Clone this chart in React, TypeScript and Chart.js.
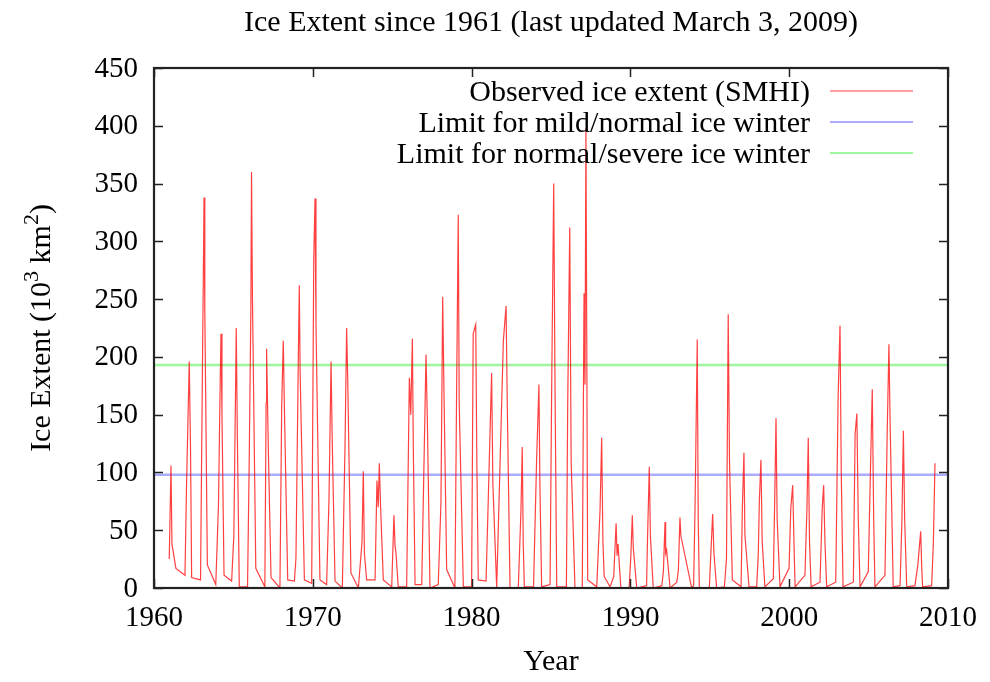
import React, { useEffect, useRef } from 'react';
import { Chart, registerables } from 'chart.js';

Chart.register(...registerables);

const TITLE = 'Ice Extent since 1961 (last updated March 3, 2009)';
const X_LABEL = 'Year';
const Y_LABEL_PARTS = [
  { t: 'Ice Extent (10', sup: false },
  { t: '3', sup: true },
  { t: ' km', sup: false },
  { t: '2', sup: true },
  { t: ')', sup: false },
];
const legendLabels = [
  'Observed ice extent (SMHI)',
  'Limit for mild/normal ice winter',
  'Limit for normal/severe ice winter',
];
const xTickValues = [1960, 1970, 1980, 1990, 2000, 2010];
const yTickValues = [0, 50, 100, 150, 200, 250, 300, 350, 400, 450];

const mildLimit = 98;
const severeLimit = 193;

// Observation time (decimal year) and ice extent (10^3 km^2)
const obsYear = [
  1960.96, 1961.07, 1961.13, 1961.38, 1961.95,
  1962.05, 1962.22, 1962.30, 1962.37, 1962.93,
  1963.04, 1963.12, 1963.15, 1963.20, 1963.36, 1963.89,
  1964.06, 1964.17, 1964.22, 1964.28, 1964.41, 1964.89,
  1965.03, 1965.18, 1965.25, 1965.37, 1965.89,
  1965.99, 1966.10, 1966.14, 1966.20, 1966.41, 1966.98,
  1967.06, 1967.09, 1967.20, 1967.37, 1967.93,
  1968.04, 1968.14, 1968.22, 1968.42, 1968.84,
  1968.94, 1969.08, 1969.15, 1969.20, 1969.47, 1969.93,
  1970.06, 1970.14, 1970.20, 1970.45, 1970.87,
  1971.02, 1971.15, 1971.22, 1971.40, 1971.86,
  1972.03, 1972.13, 1972.20, 1972.40, 1972.87,
  1973.10, 1973.18, 1973.25, 1973.39, 1973.92,
  1974.04, 1974.12, 1974.19, 1974.26, 1974.44, 1974.97,
  1975.11, 1975.18, 1975.24, 1975.38, 1975.91,
  1976.08, 1976.17, 1976.27, 1976.33, 1976.44, 1976.86,
  1977.02, 1977.13, 1977.22, 1977.38, 1977.90,
  1978.07, 1978.18, 1978.26, 1978.43, 1978.95,
  1979.06, 1979.16, 1979.22, 1979.48, 1980.00,
  1980.10, 1980.26, 1980.33, 1980.42, 1980.91,
  1981.05, 1981.26, 1981.34, 1981.58,
  1982.00, 1982.17, 1982.25, 1982.42, 1982.94,
  1983.11, 1983.19, 1983.25, 1983.32, 1983.90,
  1984.09, 1984.24, 1984.30, 1984.41, 1984.94,
  1985.04, 1985.17, 1985.25, 1985.36, 1985.97,
  1986.05, 1986.18, 1986.27, 1986.51, 1986.97,
  1987.08, 1987.14, 1987.20, 1987.25, 1987.31, 1987.88,
  1988.09, 1988.19, 1988.27, 1988.35, 1988.72,
  1988.95, 1989.10, 1989.16, 1989.22, 1989.40, 1989.92,
  1990.03, 1990.12, 1990.18, 1990.40,
  1991.02, 1991.07, 1991.19, 1991.26, 1991.44, 1991.98,
  1992.08, 1992.18, 1992.22, 1992.28, 1992.50, 1992.92,
  1993.02, 1993.12, 1993.18, 1993.86, 1993.98,
  1994.07, 1994.21, 1994.27, 1994.34, 1994.97,
  1995.05, 1995.18, 1995.26, 1995.43, 1995.92,
  1996.05, 1996.16, 1996.24, 1996.42, 1996.97,
  1997.05, 1997.15, 1997.21, 1997.47, 1997.95,
  1998.05, 1998.12, 1998.22, 1998.30, 1998.47,
  1999.00, 1999.10, 1999.17, 1999.24, 1999.42,
  1999.99, 2000.10, 2000.22, 2000.30, 2000.37,
  2000.99, 2001.12, 2001.20, 2001.28, 2001.38,
  2001.94, 2002.08, 2002.17, 2002.25, 2002.36,
  2002.93, 2003.08, 2003.20, 2003.28, 2003.39,
  2004.04, 2004.15, 2004.26, 2004.35, 2004.46,
  2004.98, 2005.12, 2005.23, 2005.32, 2005.40,
  2006.03, 2006.17, 2006.28, 2006.35, 2006.55,
  2006.98, 2007.10, 2007.19, 2007.27, 2007.40,
  2007.92, 2008.10, 2008.28, 2008.34, 2008.40,
  2008.97, 2009.08, 2009.18,
];
const obsExtent = [
  25, 106, 38, 17, 11,
  90, 196, 120, 9, 7,
  175, 290, 338, 240, 20, 3,
  72, 180, 220, 150, 11, 6,
  46, 225, 130, 1, 1,
  104, 240, 360, 250, 17, 1,
  160, 207, 120, 9, 0,
  156, 214, 150, 7, 6,
  26, 190, 262, 188, 7, 4,
  284, 337, 229, 7, 3,
  77, 196, 130, 6, 0,
  124, 225, 180, 13, 0,
  40, 101, 30, 7, 7,
  93, 70, 108, 74, 7, 1,
  63, 36, 30, 1, 1,
  182, 150, 216, 120, 3, 3,
  121, 202, 140, 0, 3,
  74, 252, 170, 16, 0,
  176, 323, 159, 1, 1,
  220, 228, 110, 7, 6,
  77, 186, 90, 0,
  214, 244, 156, 0, 0,
  68, 122, 40, 1, 1,
  109, 176, 90, 1, 3,
  170, 350, 180, 1, 1,
  156, 312, 109, 0, 0,
  255, 176, 398, 220, 7, 1,
  68, 130, 40, 10, 1,
  10, 56, 28, 38, 0, 0,
  28, 63, 35, 0,
  2, 38, 105, 45, 0, 2,
  15, 57, 30, 33, 0, 5,
  15, 61, 45, 0, 2,
  69, 215, 60, 0, 0,
  25, 64, 30, 0, 1,
  25, 237, 110, 7, 1,
  69, 117, 46, 1, 1,
  28, 75, 111, 40, 1,
  8, 86, 147, 60, 1,
  17, 69, 89, 40, 1,
  11, 70, 130, 40, 1,
  5, 69, 89, 40, 1,
  5, 165, 227, 98, 1,
  5, 133, 151, 60, 1,
  14, 104, 172, 60, 1,
  11, 133, 211, 147, 1,
  2, 60, 136, 60, 1,
  2, 20, 49, 20, 1,
  2, 40, 108,
];

const FONT = '"Liberation Serif", "Times New Roman", Times, serif';
const FS = 30;
const TICK_FS = 29;

const seriesColors = ['rgba(255,0,0,0.75)', 'rgba(70,70,255,0.45)', 'rgba(40,235,40,0.45)'];
const seriesWidths = [1.2, 2.5, 2.5];

const decorPlugin = {
  id: 'gnuplotDecor',
  afterDraw(chart: any) {
    const { ctx, chartArea } = chart;
    const { left, right, top, bottom } = chartArea;
    const xs = chart.scales.x;
    const ys = chart.scales.y;
    ctx.save();
    // ticks (inward, mirrored)
    ctx.strokeStyle = '#222';
    ctx.lineWidth = 1.5;
    ctx.beginPath();
    const tl = 9;
    yTickValues.forEach((v) => {
      const y = Math.round(ys.getPixelForValue(v)) + 0.5;
      ctx.moveTo(left, y);
      ctx.lineTo(left + tl, y);
      ctx.moveTo(right, y);
      ctx.lineTo(right - tl, y);
    });
    xTickValues.forEach((v) => {
      const x = Math.round(xs.getPixelForValue(v)) + 0.5;
      ctx.moveTo(x, bottom);
      ctx.lineTo(x, bottom - tl);
      ctx.moveTo(x, top);
      ctx.lineTo(x, top + tl);
    });
    ctx.stroke();
    // frame
    ctx.lineWidth = 2.2;
    ctx.strokeStyle = '#222';
    ctx.strokeRect(left, top, right - left, bottom - top);

    ctx.fillStyle = '#000';
    // tick labels
    ctx.font = `${TICK_FS}px ${FONT}`;
    ctx.textAlign = 'right';
    ctx.textBaseline = 'middle';
    yTickValues.forEach((v) => {
      ctx.fillText(String(v), left - 16, ys.getPixelForValue(v) + 1);
    });
    ctx.textAlign = 'center';
    xTickValues.forEach((v) => {
      ctx.fillText(String(v), xs.getPixelForValue(v), bottom + 30);
    });
    // title
    ctx.font = `${FS}px ${FONT}`;
    ctx.textAlign = 'center';
    ctx.textBaseline = 'middle';
    ctx.fillText(TITLE, (left + right) / 2, 23);
    // x label
    ctx.fillText(X_LABEL, (left + right) / 2, 662);
    // y label with superscripts
    ctx.save();
    ctx.translate(40, (top + bottom) / 2);
    ctx.rotate(-Math.PI / 2);
    const supSize = Math.round(FS * 0.72);
    let total = 0;
    Y_LABEL_PARTS.forEach((p) => {
      ctx.font = `${p.sup ? supSize : FS}px ${FONT}`;
      total += ctx.measureText(p.t).width;
    });
    let cx = -total / 2;
    ctx.textAlign = 'left';
    ctx.textBaseline = 'alphabetic';
    Y_LABEL_PARTS.forEach((p) => {
      ctx.font = `${p.sup ? supSize : FS}px ${FONT}`;
      ctx.fillText(p.t, cx, p.sup ? 10 - 12 : 10);
      cx += ctx.measureText(p.t).width;
    });
    ctx.restore();
    // legend
    ctx.font = `${FS}px ${FONT}`;
    ctx.textAlign = 'right';
    ctx.textBaseline = 'middle';
    const rows = [92, 123, 154];
    legendLabels.forEach((lab, i) => {
      ctx.fillStyle = '#000';
      ctx.fillText(lab, 810, rows[i] + 1);
      ctx.strokeStyle = seriesColors[i];
      ctx.lineWidth = i === 0 ? 1.2 : 2;
      ctx.beginPath();
      ctx.moveTo(830, rows[i] - 1);
      ctx.lineTo(913, rows[i] - 1);
      ctx.stroke();
    });
    ctx.restore();
  },
};

export default function App() {
  const ref = useRef<HTMLCanvasElement | null>(null);
  useEffect(() => {
    if (!ref.current) return;
    const chart = new Chart(ref.current, {
      type: 'line',
      data: {
        datasets: [
          {
            label: legendLabels[0],
            data: obsYear.map((x, i) => ({ x, y: obsExtent[i] })),
            borderColor: seriesColors[0],
            borderWidth: seriesWidths[0],
            pointRadius: 0,
            tension: 0,
          },
          {
            label: legendLabels[1],
            data: [
              { x: xTickValues[0], y: mildLimit },
              { x: xTickValues[xTickValues.length - 1], y: mildLimit },
            ],
            borderColor: seriesColors[1],
            borderWidth: seriesWidths[1],
            pointRadius: 0,
          },
          {
            label: legendLabels[2],
            data: [
              { x: xTickValues[0], y: severeLimit },
              { x: xTickValues[xTickValues.length - 1], y: severeLimit },
            ],
            borderColor: seriesColors[2],
            borderWidth: seriesWidths[2],
            pointRadius: 0,
          },
        ],
      },
      options: {
        animation: false,
        responsive: false,
        maintainAspectRatio: false,
        layout: { padding: { left: 0, right: 42, top: 68, bottom: 0 } },
        plugins: { legend: { display: false }, title: { display: false }, tooltip: { enabled: false } },
        scales: {
          x: {
            type: 'linear',
            min: xTickValues[0],
            max: xTickValues[xTickValues.length - 1],
            afterBuildTicks: (s: any) => {
              s.ticks = xTickValues.map((v) => ({ value: v }));
            },
            ticks: { display: false },
            grid: { display: false, drawTicks: false },
            border: { display: false },
            afterFit: (s: any) => {
              s.height = 94;
            },
          },
          y: {
            type: 'linear',
            min: yTickValues[0],
            max: yTickValues[yTickValues.length - 1],
            afterBuildTicks: (s: any) => {
              s.ticks = yTickValues.map((v) => ({ value: v }));
            },
            ticks: { display: false },
            grid: { display: false, drawTicks: false },
            border: { display: false },
            afterFit: (s: any) => {
              s.width = 154;
            },
          },
        },
      },
      plugins: [decorPlugin],
    });
    return () => chart.destroy();
  }, []);
  return (
    <div style={{ position: 'fixed', left: 0, top: 0, width: 990, height: 682, background: '#fff' }}>
      <canvas ref={ref} width={990} height={682} style={{ width: 990, height: 682, display: 'block' }} />
    </div>
  );
}
